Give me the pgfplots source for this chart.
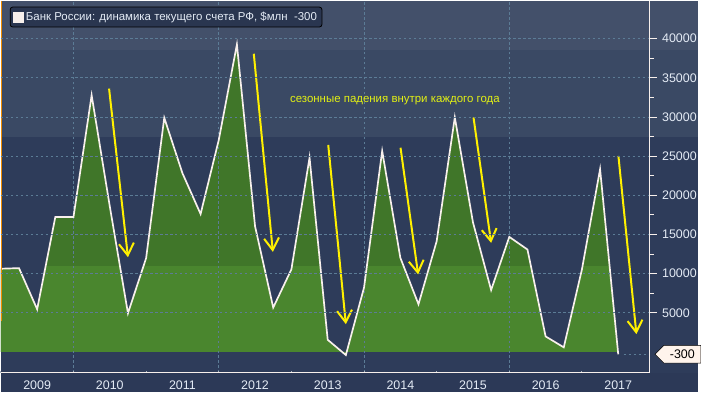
\documentclass[border=0pt]{standalone}
\usepackage{pgfplots}
\pgfplotsset{compat=1.18}
\usepackage{pgfplotstable}
\usepackage{fontspec}
\setmainfont{Liberation Sans}
\usetikzlibrary{backgrounds,calc,arrows.meta,shapes.symbols}

\definecolor{bgnavy}{RGB}{44,57,87}
\definecolor{bandA}{RGB}{67,80,106}
\definecolor{bandB}{RGB}{58,73,100}
\definecolor{bandC}{RGB}{46,60,90}
\definecolor{greenD}{RGB}{64,118,41}
\definecolor{greenL}{RGB}{74,134,46}
\definecolor{gridc}{RGB}{92,124,150}
\definecolor{txt}{RGB}{228,235,245}
\definecolor{anno}{RGB}{226,240,20}
\definecolor{arr}{RGB}{255,240,0}
\definecolor{linec}{RGB}{248,240,236}
\definecolor{legbg}{RGB}{42,54,80}
\definecolor{divc}{RGB}{170,178,190}
\definecolor{orangec}{RGB}{240,140,0}
\definecolor{boxc}{RGB}{255,244,236}

\newcommand\fs{\fontsize{12.5bp}{15bp}\selectfont}
\newcommand\fst{\fontsize{11.5bp}{14bp}\selectfont}

\pgfplotstableread{
i v
0 10626
1 10702
2 5453
3 17235
4 17235
5 32780
6 18582
7 4944
8 11973
9 29894
10 22827
11 17616
12 27059
13 39261
14 16040
15 5669
16 10537
17 24810
18 1551
19 -400
20 8211
21 25662
22 12024
23 6088
24 14133
25 29945
26 16549
27 7906
28 14693
29 13079
30 1983
31 585
32 10537
33 23336
34 -300
}\cadata

\begin{document}
\begin{tikzpicture}
\begin{axis}[
  name=ax,
  scale only axis, width=652bp, height=374bp,
  xmin=0, xmax=35.73, ymin=-2680, ymax=44850,
  axis on top,
  axis x line=bottom, axis y line=right,
  axis line style={-, draw=linec, line width=1bp},
  xtick={2,6,...,34},
  xticklabels={2009,2010,2011,2012,2013,2014,2015,2016,2017},
  xtick style={draw=none},
  ytick={5000,10000,...,40000},
  scaled y ticks=false,
  minor y tick num=1,
  ytick style={draw=linec, line width=1bp},
  tick align=outside,
  major tick length=7bp, minor tick length=4bp,
  ymajorgrids,
  major grid style={draw=gridc, dash pattern=on 2.5bp off 2.5bp, line width=1bp},
  yticklabel style={text=txt, font=\fs, anchor=west, xshift=2bp},
  xticklabel style={text=txt, font=\fs, yshift=3bp},
  /pgf/number format/1000 sep={},
  /pgf/number format/assume math mode=true,
  clip=false,
  legend style={at={(axis description cs:0.0138,0.984)}, anchor=north west,
    fill=legbg, draw=black, line width=0.8bp, rounded corners=2.5bp,
    font=\fst, text=txt, inner xsep=3bp, inner ysep=3bp},
  legend cell align=left,
]
\addlegendimage{legend image code/.code={\fill[linec, sharp corners] (4bp,-5bp) rectangle (14bp,5bp);}}
\addlegendentry{Банк России: динамика текущего счета РФ, \$млн\ \ -300}

\addplot[fill=greenD, draw=none, forget plot] table[x=i,y=v] {\cadata} \closedcycle;
\begin{scope}
\clip (axis cs:0,-3000) rectangle (axis cs:36,10950);
\addplot[fill=greenL, draw=none, forget plot] table[x=i,y=v] {\cadata} \closedcycle;
\end{scope}

% vertical grid lines every two years
\draw[gridc, dash pattern=on 2.5bp off 2.5bp, line width=1bp] (axis cs:4,-2680) -- (axis cs:4,44850);
\draw[gridc, dash pattern=on 2.5bp off 2.5bp, line width=1bp] (axis cs:12,-2680) -- (axis cs:12,44850);
\draw[gridc, dash pattern=on 2.5bp off 2.5bp, line width=1bp] (axis cs:20,-2680) -- (axis cs:20,44850);
\draw[gridc, dash pattern=on 2.5bp off 2.5bp, line width=1bp] (axis cs:28,-2680) -- (axis cs:28,44850);
\draw[gridc, dash pattern=on 2.5bp off 2.5bp, line width=1bp] (axis cs:34.3,-300) -- (axis cs:35.73,-300);

\addplot[linec, line width=1.7bp, forget plot] table[x=i,y=v] {\cadata};

% year dividers
\draw[divc, line width=0.9bp] (axis cs:0,-2680) -- ++(0,-19bp);
\draw[divc, line width=0.9bp] (axis cs:4,-2680) -- ++(0,-19bp);
\draw[divc, line width=0.9bp] (axis cs:8,-2680) -- ++(0,-19bp);
\draw[divc, line width=0.9bp] (axis cs:12,-2680) -- ++(0,-19bp);
\draw[divc, line width=0.9bp] (axis cs:16,-2680) -- ++(0,-19bp);
\draw[divc, line width=0.9bp] (axis cs:20,-2680) -- ++(0,-19bp);
\draw[divc, line width=0.9bp] (axis cs:24,-2680) -- ++(0,-19bp);
\draw[divc, line width=0.9bp] (axis cs:28,-2680) -- ++(0,-19bp);
\draw[divc, line width=0.9bp] (axis cs:32,-2680) -- ++(0,-19bp);

% orange edge marker
\draw[orangec, line width=1.5bp] ([xshift=0.75bp]axis cs:0,44850) -- ([xshift=0.75bp]axis cs:0,3927);

% seasonal arrows
\addplot[arr, line width=2bp, -{Straight Barb[length=12bp,width=15bp]}, forget plot] coordinates {(5.96,33630) (7.0,12100)};
\addplot[arr, line width=2bp, -{Straight Barb[length=12bp,width=15bp]}, forget plot] coordinates {(13.93,38080) (14.98,12780)};
\addplot[arr, line width=2bp, -{Straight Barb[length=12bp,width=15bp]}, forget plot] coordinates {(18.03,26433) (19.0,3546)};
\addplot[arr, line width=2bp, -{Straight Barb[length=12bp,width=15bp]}, forget plot] coordinates {(22.01,26080) (22.98,9900)};
\addplot[arr, line width=2bp, -{Straight Barb[length=12bp,width=15bp]}, forget plot] coordinates {(26.03,29944) (27.0,13930)};
\addplot[arr, line width=2bp, -{Straight Barb[length=12bp,width=15bp]}, forget plot] coordinates {(34.01,25026) (35.0,2275)};

\node[text=anno, font=\fst] at (axis cs:21.7,32144) {сезонные падения внутри каждого года};

% last value box
\node[signal, signal to=west, fill=boxc, draw=black, line width=0.5bp, font=\fs,
  text=black, anchor=west, inner sep=1.5bp, minimum height=18bp, minimum width=46bp,
  xshift=5bp] at (axis cs:35.73,-300) {-300};
\end{axis}
\begin{scope}[on background layer]
\fill[bgnavy] ($(ax.south west)+(0,-19bp)$) rectangle ($(ax.north east)+(49bp,0)$);
\fill[bandC] ($(ax.south west)$) rectangle ($(ax.north east)+(49bp,-137bp)$);
\fill[bandB] ($(ax.north west)+(0,-137bp)$) rectangle ($(ax.north east)+(49bp,-50bp)$);
\fill[bandA] ($(ax.north west)+(0,-50bp)$) rectangle ($(ax.north east)+(49bp,0)$);
\end{scope}
\end{tikzpicture}
\end{document}
